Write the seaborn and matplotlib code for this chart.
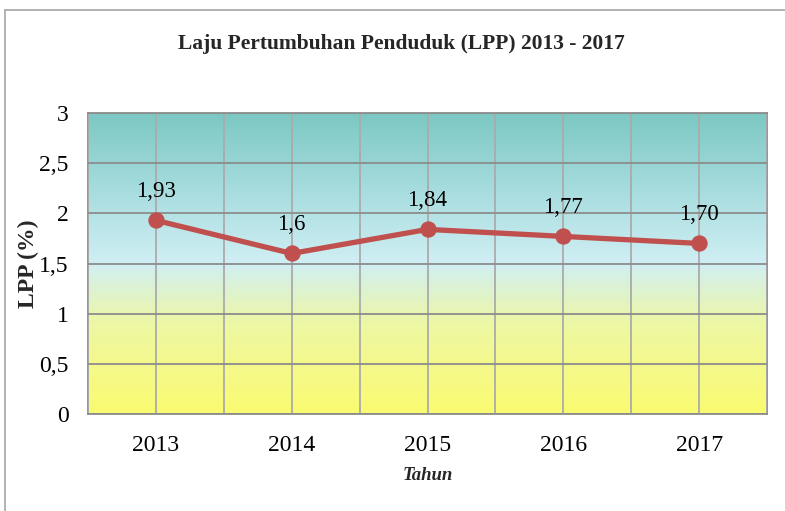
import numpy as np
import pandas as pd
import matplotlib
matplotlib.use("Agg")
import matplotlib.pyplot as plt
import seaborn as sns
from matplotlib.colors import LinearSegmentedColormap
from matplotlib.patches import Rectangle

years = ["2013", "2014", "2015", "2016", "2017"]
lpp = [1.93, 1.60, 1.84, 1.77, 1.70]
labels = ["1,93", "1,6", "1,84", "1,77", "1,70"]
yticks = [0, 0.5, 1, 1.5, 2, 2.5, 3]
ytick_labels = ["0", "0,5", "1", "1,5", "2", "2,5", "3"]

sns.set_theme(style="white")
plt.rcParams['font.family'] = ['Liberation Serif', 'DejaVu Serif']

fig = plt.figure(figsize=(7.85, 5.11), dpi=100)
ax = fig.add_axes([88/785, 1-414/511, (767-88)/785, (414-113)/511])

# outer chart border
fig.patches.append(Rectangle((5/785, -0.05), 1.2, 1-10/511+0.05, transform=fig.transFigure,
                             fill=False, edgecolor="#A6A6A6", linewidth=1.2))

df = pd.DataFrame({"Tahun": years, "LPP": lpp})

# gradient background
cmap = LinearSegmentedColormap.from_list("bg", [(0, "#FBFB70"), (0.3, "#EEF7A4"), (0.5, "#D0EFF4"),
                                                (0.75, "#A6DCDE"), (1.0, "#7CC8C3")])
grad = np.linspace(0, 1, 256).reshape(-1, 1)
ax.imshow(grad, extent=(-0.5, 4.5, 0, 3), origin="lower", aspect="auto", cmap=cmap, zorder=0)

sns.lineplot(data=df, x="Tahun", y="LPP", ax=ax, color="#C0504D", linewidth=3.8,
             marker="o", markersize=11, markeredgecolor="#C0504D", zorder=5, sort=False)

for i, (v, t) in enumerate(zip(lpp, labels)):
    ax.annotate(t, (i, v), xytext=(0, 13), textcoords="offset points", ha="center",
                va="bottom", fontsize=16.5, color="black", zorder=6)

ax.set_xlim(-0.5, 4.5)
ax.set_ylim(0, 3)
ax.set_yticks(yticks)
ax.set_yticklabels(ytick_labels)
ax.set_xticks(range(len(years)))
ax.set_xticklabels(years)
ax.set_xticks([-0.5, 0.5, 1.5, 2.5, 3.5, 4.5], minor=True)
ax.grid(True, which="both", axis="x", color="#ABABAB", linewidth=1.3, zorder=1)
ax.grid(True, which="major", axis="y", color="#8C8C8C", linewidth=1.3, zorder=1)
ax.set_axisbelow(False)
for line in ax.get_xgridlines() + ax.get_ygridlines():
    line.set_zorder(1)
ax.tick_params(axis="both", which="both", length=0, labelsize=17, colors="black")
ax.tick_params(axis="x", pad=15)
ax.tick_params(axis="y", pad=14)
for s in ax.spines.values():
    s.set_color("#8C8C8C")
    s.set_linewidth(1.3)

ax.set_xlabel("Tahun", fontsize=13.5, fontweight="bold", fontstyle="italic", labelpad=8)
ax.set_ylabel("LPP (%)", fontsize=17, fontweight="bold", labelpad=0)

fig.text(401/785, 1-44/511, "Laju Pertumbuhan Penduduk (LPP) 2013 - 2017", ha="center",
         va="center", fontsize=15.5, fontweight="bold")

fig.savefig("out.png", dpi=100)
